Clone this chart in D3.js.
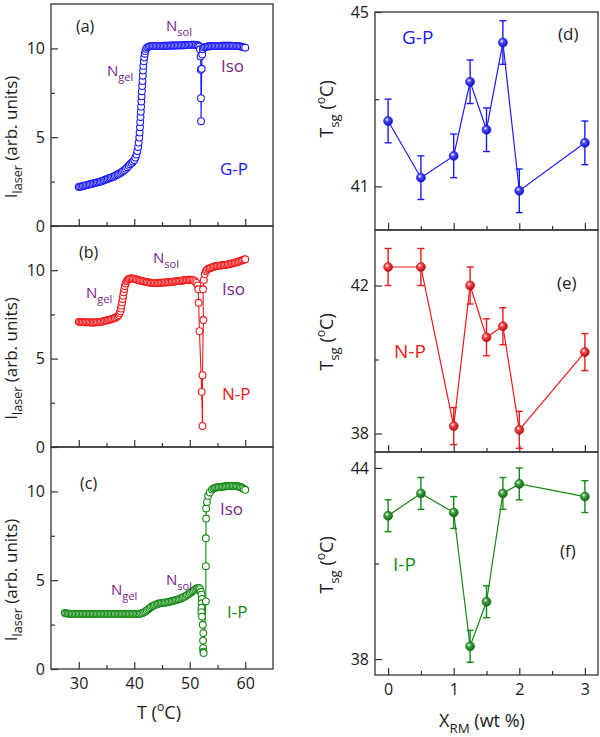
<!DOCTYPE html>
<html><head><meta charset="utf-8">
<script src="https://cdn.jsdelivr.net/npm/d3@7"></script>
<style>body{margin:0;background:#fff}svg text{font-family:"Open Sans",sans-serif}</style>
</head><body><svg id="chart" width="600" height="737"></svg>
<script>
// ---------- data ----------
const tempTicks = [30, 40, 50, 60];
const tempMinorTicks = [35, 45, 55];
const intensityTicks = [0, 5, 10];
const intensityMinorTicks = [2.5, 7.5];
const xrmTicks = [0, 1, 2, 3];
const xrmMinorTicks = [0.5, 1.5, 2.5];

// (a) G-P laser intensity vs T
const gpData = [[30,2.20],[30.25,2.21],[30.5,2.23],[30.75,2.25],[31,2.27],[31.25,2.29],[31.5,2.31],[31.75,2.33],[32,2.35],[32.25,2.37],[32.5,2.39],[32.75,2.41],[33,2.43],[33.25,2.45],[33.5,2.47],[33.75,2.49],[34,2.51],[34.25,2.54],[34.5,2.57],[34.75,2.60],[35,2.63],[35.25,2.66],[35.5,2.69],[35.75,2.72],[36,2.75],[36.25,2.78],[36.5,2.82],[36.75,2.86],[37,2.90],[37.25,2.94],[37.5,2.99],[37.75,3.04],[38,3.10],[38.25,3.16],[38.5,3.23],[38.75,3.31],[39,3.39],[39.25,3.47],[39.5,3.55],[39.75,3.63],[40,3.72],[40.2,3.85],[40.4,4.02],[40.55,4.22],[40.7,4.45],[40.8,4.7],[40.9,4.98],[40.97,5.27],[41.03,5.56],[41.08,5.85],[41.13,6.14],[41.18,6.43],[41.23,6.72],[41.28,7.01],[41.33,7.3],[41.38,7.59],[41.43,7.88],[41.48,8.17],[41.53,8.46],[41.58,8.75],[41.64,9.02],[41.72,9.27],[41.8,9.5],[41.9,9.7],[42,9.86],[42.15,9.98],[42.35,10.06],[42.6,10.1],[42.85,10.12],[43.1,10.13],[43.35,10.13],[43.6,10.13],[43.85,10.13],[44.1,10.14],[44.35,10.14],[44.6,10.14],[44.85,10.14],[45.1,10.14],[45.35,10.15],[45.6,10.15],[45.85,10.15],[46.1,10.15],[46.35,10.15],[46.6,10.16],[46.85,10.16],[47.1,10.16],[47.35,10.16],[47.6,10.17],[47.85,10.17],[48.1,10.17],[48.35,10.17],[48.6,10.18],[48.85,10.18],[49.1,10.18],[49.35,10.19],[49.6,10.19],[49.85,10.2],[50.1,10.2],[50.35,10.21],[50.6,10.21],[50.85,10.21],[51.1,10.2],[51.35,10.19],[51.55,10.16],[51.72,10.1],[51.85,9.95],[51.95,9.55],[52,8.8],[52.02,7.2],[52.04,5.9],[52.15,8.85],[52.25,9.65],[52.35,9.95],[52.5,10.05],[52.75,10.08],[53,10.1],[53.25,10.11],[53.5,10.12],[53.75,10.12],[54,10.13],[54.25,10.13],[54.5,10.13],[54.75,10.14],[55,10.14],[55.25,10.14],[55.5,10.14],[55.75,10.15],[56,10.15],[56.25,10.15],[56.5,10.15],[56.75,10.15],[57,10.15],[57.25,10.15],[57.5,10.15],[57.75,10.14],[58,10.14],[58.25,10.14],[58.5,10.13],[58.75,10.13],[59,10.12],[59.25,10.1],[59.5,10.08],[59.75,10.06],[60,10.04]];

// (b) N-P
const npData = [[30,7.08],[30.25,7.08],[30.5,7.07],[30.75,7.07],[31,7.06],[31.25,7.06],[31.5,7.05],[31.75,7.05],[32,7.05],[32.25,7.04],[32.5,7.04],[32.75,7.04],[33,7.05],[33.25,7.05],[33.5,7.06],[33.75,7.07],[34,7.08],[34.25,7.1],[34.5,7.12],[34.75,7.14],[35,7.16],[35.25,7.18],[35.5,7.2],[35.75,7.22],[36,7.24],[36.25,7.27],[36.5,7.3],[36.75,7.34],[37,7.39],[37.2,7.46],[37.35,7.56],[37.5,7.68],[37.6,7.83],[37.7,8.0],[37.8,8.18],[37.9,8.37],[38,8.56],[38.1,8.75],[38.2,8.93],[38.3,9.1],[38.45,9.25],[38.6,9.37],[38.8,9.45],[39,9.5],[39.25,9.53],[39.5,9.54],[39.75,9.53],[40,9.51],[40.25,9.49],[40.5,9.46],[40.75,9.44],[41,9.42],[41.25,9.4],[41.5,9.38],[41.75,9.36],[42,9.34],[42.25,9.33],[42.5,9.31],[42.75,9.3],[43,9.29],[43.25,9.28],[43.5,9.28],[43.75,9.28],[44,9.28],[44.25,9.28],[44.5,9.29],[44.75,9.29],[45,9.3],[45.25,9.3],[45.5,9.31],[45.75,9.31],[46,9.32],[46.25,9.32],[46.5,9.33],[46.75,9.34],[47,9.35],[47.25,9.36],[47.5,9.37],[47.75,9.38],[48,9.39],[48.25,9.4],[48.5,9.41],[48.75,9.42],[49,9.43],[49.25,9.44],[49.5,9.45],[49.75,9.46],[50,9.46],[50.25,9.46],[50.5,9.45],[50.75,9.42],[51,9.37],[51.2,9.28],[51.4,9.14],[51.55,8.92],[51.6,8.16],[51.75,6.55],[52.15,3.12],[52.3,1.19],[52.3,4.06],[52.45,7.18],[52.4,8.92],[52.55,9.45],[52.7,9.78],[52.9,9.95],[53.1,10.03],[53.35,10.08],[53.6,10.11],[53.85,10.14],[54.1,10.17],[54.35,10.2],[54.6,10.22],[54.85,10.24],[55.1,10.25],[55.35,10.26],[55.6,10.27],[55.85,10.28],[56.1,10.29],[56.35,10.3],[56.6,10.31],[56.85,10.33],[57.1,10.34],[57.35,10.36],[57.6,10.38],[57.85,10.4],[58.1,10.42],[58.35,10.44],[58.6,10.46],[58.85,10.49],[59.1,10.52],[59.35,10.55],[59.6,10.58],[59.85,10.61],[60,10.62]];

// (c) I-P
const ipData = [[27.5,3.15],[27.75,3.13],[28,3.12],[28.25,3.11],[28.5,3.11],[28.75,3.1],[29,3.1],[29.25,3.1],[29.5,3.1],[29.75,3.1],[30,3.1],[30.25,3.1],[30.5,3.1],[30.75,3.1],[31,3.1],[31.25,3.1],[31.5,3.1],[31.75,3.1],[32,3.1],[32.25,3.1],[32.5,3.1],[32.75,3.1],[33,3.1],[33.25,3.1],[33.5,3.1],[33.75,3.1],[34,3.1],[34.25,3.1],[34.5,3.1],[34.75,3.1],[35,3.1],[35.25,3.1],[35.5,3.1],[35.75,3.1],[36,3.1],[36.25,3.1],[36.5,3.1],[36.75,3.1],[37,3.1],[37.25,3.1],[37.5,3.1],[37.75,3.1],[38,3.1],[38.25,3.1],[38.5,3.1],[38.75,3.1],[39,3.1],[39.25,3.1],[39.5,3.1],[39.75,3.1],[40,3.1],[40.25,3.1],[40.5,3.1],[40.75,3.11],[41,3.11],[41.25,3.12],[41.5,3.15],[41.75,3.19],[42,3.24],[42.25,3.3],[42.5,3.36],[42.75,3.42],[43,3.48],[43.25,3.53],[43.5,3.57],[43.75,3.61],[44,3.64],[44.25,3.67],[44.5,3.69],[44.75,3.71],[45,3.72],[45.25,3.73],[45.5,3.74],[45.75,3.75],[46,3.76],[46.25,3.78],[46.5,3.8],[46.75,3.82],[47,3.84],[47.25,3.86],[47.5,3.88],[47.75,3.9],[48,3.93],[48.25,3.96],[48.5,3.99],[48.75,4.03],[49,4.07],[49.25,4.11],[49.5,4.16],[49.75,4.21],[50,4.26],[50.25,4.32],[50.5,4.38],[50.75,4.43],[51,4.48],[51.25,4.53],[51.5,4.56],[51.7,4.57],[51.85,4.5],[52,4.35],[52.1,4.19],[52.2,3.95],[52.15,3.7],[52.1,3.45],[52.1,3.2],[52.2,2.95],[52.35,2.49],[52.45,2.02],[52.4,1.6],[52.4,1.17],[52.45,0.98],[52.5,0.9],[52.9,3.81],[52.9,5.79],[52.9,7.36],[52.95,8.47],[52.95,9.04],[53.1,9.41],[53.3,9.75],[53.6,9.94],[54,10.1],[54.25,10.17],[54.5,10.2],[54.75,10.22],[55,10.23],[55.25,10.24],[55.5,10.25],[55.75,10.26],[56,10.27],[56.25,10.28],[56.5,10.29],[56.75,10.3],[57,10.3],[57.25,10.31],[57.5,10.31],[57.75,10.31],[58,10.31],[58.25,10.3],[58.5,10.29],[58.75,10.28],[59,10.26],[59.25,10.23],[59.5,10.19],[59.75,10.14],[60,10.09]];

// (d)-(f) Tsg vs X_RM
const xrm = [0, 0.5, 1, 1.25, 1.5, 1.75, 2, 3];
const tsgGP = [42.5, 41.2, 41.7, 43.4, 42.3, 44.3, 40.9, 42.0];
const tsgNP = [42.5, 42.5, 38.2, 42.0, 40.6, 40.9, 38.1, 40.2];
const tsgIP = [42.5, 43.2, 42.6, 38.4, 39.8, 43.2, 43.5, 43.1];
const errGP = [0.5, 0.5, 0.5, 0.5, 0.5, 0.5, 0.5, 0.5];
const errNP = [0.5, 0.5, 0.5, 0.5, 0.5, 0.5, 0.5, 0.5];
const errIP = [0.5, 0.5, 0.5, 0.5, 0.5, 0.5, 0.5, 0.5];

// ---------- drawing ----------
const svg = d3.select("#chart");
const BLUE = "#1a1aff", RED = "#f01818", GREEN = "#138a13", PURPLE = "#7a1f8a", INK = "#1a1a1a";
const defs = svg.append("defs");
[["gB", BLUE], ["gR", RED], ["gG", GREEN]].forEach(([id, c]) => {
  const g = defs.append("radialGradient").attr("id", id).attr("cx", "38%").attr("cy", "35%").attr("r", "65%");
  g.append("stop").attr("offset", "0").attr("stop-color", "#fff");
  g.append("stop").attr("offset", "0.35").attr("stop-color", d3.interpolateRgb(c, "#fff")(0.2));
  g.append("stop").attr("offset", "1").attr("stop-color", d3.interpolateRgb(c, "#000")(0.25));
});

function richText(g, x, y, parts, opts) {
  const t = g.append("text").attr("x", x).attr("y", y)
    .attr("font-size", opts.size).attr("fill", opts.color || INK)
    .attr("text-anchor", opts.anchor || "start");
  if (opts.rotate) t.attr("x", 0).attr("y", 0).attr("transform", `translate(${x},${y}) rotate(-90)`);
  let shift = 0;
  parts.forEach(p => {
    const s = t.append("tspan").text(p.t);
    let target = 0, fs = opts.size;
    if (p.sub) { target = opts.size * 0.32; fs = opts.size * 0.74; }
    if (p.sup) { target = -opts.size * 0.42; fs = opts.size * 0.68; }
    s.attr("dy", target - shift).attr("font-size", fs);
    shift = target;
  });
  return t;
}

function frameAxes(g, x, y, xt, xm, yt, ym, showXLabels) {
  const [x0, x1] = x.range(), [y0, y1] = y.range();
  const ax = g.append("g").attr("transform", `translate(0,${y0})`)
    .call(d3.axisBottom(x).tickValues(xt).tickSizeInner(-7).tickSizeOuter(0).tickPadding(9)
      .tickFormat(showXLabels ? d3.format("d") : () => ""));
  const axm = g.append("g").attr("transform", `translate(0,${y0})`)
    .call(d3.axisBottom(x).tickValues(xm).tickSizeInner(-4).tickSizeOuter(0).tickFormat(() => ""));
  const ay = g.append("g").attr("transform", `translate(${x0},0)`)
    .call(d3.axisLeft(y).tickValues(yt).tickSizeInner(-7).tickSizeOuter(0).tickPadding(6).tickFormat(d3.format("d")));
  const aym = g.append("g").attr("transform", `translate(${x0},0)`)
    .call(d3.axisLeft(y).tickValues(ym).tickSizeInner(-4).tickSizeOuter(0).tickFormat(() => ""));
  [ax, axm, ay, aym].forEach(a => {
    a.select(".domain").remove();
    a.selectAll("line").attr("stroke", "#333").attr("stroke-width", 1.2);
    a.selectAll("text").attr("font-size", 16).attr("fill", INK).attr("font-family", '"Open Sans",sans-serif');
  });
  g.append("rect").attr("x", x0).attr("y", y1).attr("width", x1 - x0).attr("height", y0 - y1)
    .attr("fill", "none").attr("stroke", "#333").attr("stroke-width", 1.3);
}

// Left panels
const xT = d3.scaleLinear().domain([25, 65]).range([51, 273]);
const leftPanels = [
  {top: 4, bot: 226, data: gpData, color: BLUE},
  {top: 226, bot: 447, data: npData, color: RED},
  {top: 447, bot: 669, data: ipData, color: GREEN}
];
leftPanels.forEach((p, i) => {
  const g = svg.append("g");
  const y = d3.scaleLinear().domain([0, 12.5]).range([p.bot, p.top]);
  frameAxes(g, xT, y, tempTicks, tempMinorTicks, intensityTicks, intensityMinorTicks, i === 2);
  const line = d3.line().x(d => xT(d[0])).y(d => y(d[1]));
  g.append("path").datum(p.data).attr("d", line).attr("fill", "none").attr("stroke", p.color).attr("stroke-width", 1.1);
  g.selectAll("circle.pt").data(p.data).join("circle").attr("class", "pt")
    .attr("cx", d => xT(d[0])).attr("cy", d => y(d[1])).attr("r", 3.4)
    .attr("fill", "#fff").attr("stroke", p.color).attr("stroke-width", 1.1);
  richText(svg, 17, (p.top + p.bot) / 2 + 22, [{t: "I"}, {t: "laser", sub: true}, {t: " (arb. units)"}], {size: 17, rotate: true, anchor: "middle"});
});

// Left labels
richText(svg, 76, 32, [{t: "(a)"}], {size: 16});
richText(svg, 166, 31, [{t: "N"}, {t: "sol", sub: true}], {size: 15, color: PURPLE});
richText(svg, 107, 76, [{t: "N"}, {t: "gel", sub: true}], {size: 15, color: PURPLE});
richText(svg, 221, 72, [{t: "Iso"}], {size: 17, color: PURPLE});
richText(svg, 220, 175, [{t: "G-P"}], {size: 17, color: BLUE});

richText(svg, 79, 258, [{t: "(b)"}], {size: 16});
richText(svg, 153, 263, [{t: "N"}, {t: "sol", sub: true}], {size: 15, color: PURPLE});
richText(svg, 86, 298, [{t: "N"}, {t: "gel", sub: true}], {size: 15, color: PURPLE});
richText(svg, 222, 295, [{t: "Iso"}], {size: 17, color: PURPLE});
richText(svg, 222, 400, [{t: "N-P"}], {size: 17, color: RED});

richText(svg, 80, 489, [{t: "(c)"}], {size: 16});
richText(svg, 220, 515, [{t: "Iso"}], {size: 17, color: PURPLE});
richText(svg, 111, 595, [{t: "N"}, {t: "gel", sub: true}], {size: 15, color: PURPLE});
richText(svg, 166, 585, [{t: "N"}, {t: "sol", sub: true}], {size: 15, color: PURPLE});
richText(svg, 227, 618, [{t: "I-P"}], {size: 17, color: GREEN});

richText(svg, 159, 719, [{t: "T ("}, {t: "o", sup: true}, {t: "C)"}], {size: 18, anchor: "middle"});

// Right panels
const xR = d3.scaleLinear().domain([-0.2, 3.2]).range([375, 598]);
const rightPanels = [
  {top: 12, bot: 230, dom: [40, 45], yt: [41, 45], ym: [43], vals: tsgGP, err: errGP, color: BLUE, grad: "gB", tc: 109},
  {top: 230, bot: 452, dom: [37.5, 43.5], yt: [38, 42], ym: [40], vals: tsgNP, err: errNP, color: RED, grad: "gR", tc: 342},
  {top: 452, bot: 675, dom: [37.5, 44.5], yt: [38, 44], ym: [41], vals: tsgIP, err: errIP, color: GREEN, grad: "gG", tc: 565}
];
rightPanels.forEach((p, i) => {
  const g = svg.append("g");
  const y = d3.scaleLinear().domain(p.dom).range([p.bot, p.top]);
  frameAxes(g, xR, y, xrmTicks, xrmMinorTicks, p.yt, p.ym, i === 2);
  const pts = xrm.map((x, k) => ({x, v: p.vals[k], e: p.err[k]}));
  const line = d3.line().x(d => xR(d.x)).y(d => y(d.v));
  g.append("path").datum(pts).attr("d", line).attr("fill", "none").attr("stroke", p.color).attr("stroke-width", 1.2);
  const eb = g.selectAll("g.eb").data(pts).join("g").attr("class", "eb")
    .attr("stroke", p.color).attr("stroke-width", 1.4);
  eb.append("line").attr("x1", d => xR(d.x)).attr("x2", d => xR(d.x))
    .attr("y1", d => y(d.v - d.e)).attr("y2", d => y(d.v + d.e));
  eb.append("line").attr("x1", d => xR(d.x) - 3.5).attr("x2", d => xR(d.x) + 3.5)
    .attr("y1", d => y(d.v - d.e)).attr("y2", d => y(d.v - d.e));
  eb.append("line").attr("x1", d => xR(d.x) - 3.5).attr("x2", d => xR(d.x) + 3.5)
    .attr("y1", d => y(d.v + d.e)).attr("y2", d => y(d.v + d.e));
  g.selectAll("circle.m").data(pts).join("circle").attr("class", "m")
    .attr("cx", d => xR(d.x)).attr("cy", d => y(d.v)).attr("r", 4.5)
    .attr("fill", `url(#${p.grad})`).attr("stroke", d3.interpolateRgb(p.color, "#000")(0.2)).attr("stroke-width", 0.6);
  richText(svg, 333, p.tc, [{t: "T"}, {t: "sg", sub: true}, {t: " ("}, {t: "o", sup: true}, {t: "C)"}], {size: 18, rotate: true, anchor: "middle"});
});

richText(svg, 558, 40, [{t: "(d)"}], {size: 17});
richText(svg, 402, 44, [{t: "G-P"}], {size: 19, color: BLUE});
richText(svg, 557, 289, [{t: "(e)"}], {size: 17});
richText(svg, 394, 358, [{t: "N-P"}], {size: 19, color: RED});
richText(svg, 560, 557, [{t: "(f)"}], {size: 17});
richText(svg, 393, 571, [{t: "I-P"}], {size: 19, color: GREEN});

richText(svg, 482, 727, [{t: "X"}, {t: "RM", sub: true}, {t: " (wt %)"}], {size: 18, anchor: "middle"});
</script></body></html>
